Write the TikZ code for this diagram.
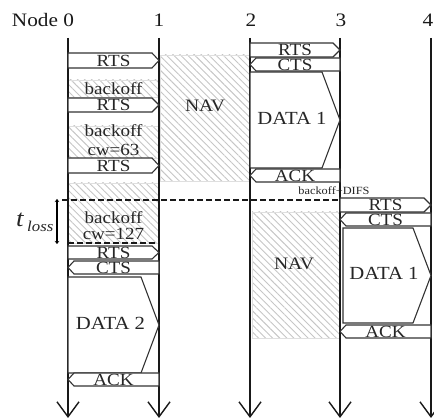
\documentclass[tikz,border=0pt]{standalone}
\usepackage{fontspec}
\setmainfont[FakeStretch=1.12]{Liberation Serif}
\usetikzlibrary{patterns.meta,arrows.meta}
% right-pointing message: name, left, right, top, bottom, text
\newcommand\msgRight[6]{%
  \draw[msgbox] (#2,#4) -- ({#3-7},#4) -- (#3,{(#4+#5)/2}) -- ({#3-7},#5) -- (#2,#5) -- cycle;
  \node[lbl] (#1) at ({(#2+#3)/2},{(#4+#5)/2}) {#6};}
% left-pointing message
\newcommand\msgLeft[6]{%
  \draw[msgbox] (#2,{(#4+#5)/2}) -- ({#2+6},#4) -- (#3,#4) -- (#3,#5) -- ({#2+6},#5) -- cycle;
  \node[lbl] (#1) at ({(#2+#3)/2},{(#4+#5)/2}) {#6};}
% data frame
\newcommand\msgData[6]{%
  \draw[msgbox] (#2,#4) -- ({#3-18},#4) -- (#3,{(#4+#5)/2}) -- ({#3-18},#5) -- (#2,#5) -- cycle;
  \node[biglbl] (#1) at ({(#2+#3)/2-3},{(#4+#5)/2-2}) {#6};}
\begin{document}
\begin{tikzpicture}[x=1pt,y=-1pt,
  lifeline/.style={line width=1.8pt, black!90, -{Straight Barb[length=15pt,width=22pt,line width=1.4pt]}},
  msgbox/.style={draw=black!80, line width=1.1pt, fill=white},
  hatch/.style={pattern={Lines[angle=-45,distance=5pt,line width=0.9pt]}, pattern color=gray!45, draw=gray!25, line width=0.6pt},
  lbl/.style={font=\fontsize{17}{17}\selectfont, text=black!85, inner sep=0pt},
  biglbl/.style={font=\fontsize{18.5}{18.5}\selectfont, text=black!85, inner sep=0pt},
  navlbl/.style={font=\fontsize{17.5}{17.5}\selectfont, text=black!85, inner sep=0pt},
  head/.style={font=\fontsize{19}{19}\selectfont, text=black!90, inner sep=0pt, anchor=base},
  dashline/.style={line width=1.6pt, dash pattern=on 6pt off 3pt, black!90}
]
\useasboundingbox (0,0) rectangle (434,419);

% headers
\node[head] (h0) at (43,27) {Node 0};
\node[head] (h1) at (159,27) {1};
\node[head] (h2) at (251,27) {2};
\node[head] (h3) at (341,27) {3};
\node[head] (h4) at (428,27) {4};

% hatched regions
\draw[hatch] (68,80) rectangle (159,97);
\draw[hatch] (68,126) rectangle (159,158);
\draw[hatch] (68,183) rectangle (159,243);
\draw[hatch] (160,55) rectangle (250,181);
\draw[hatch] (252,212) rectangle (339,338);

% lifelines
\foreach \i/\x in {0/68,1/159,2/250,3/340,4/431}{
  \coordinate (top\i) at (\x,38);
  \coordinate (bot\i) at (\x,418);
  \draw[lifeline] (top\i) -- (bot\i);
}

% node 0 column
\msgRight{rts01}{68}{159}{53}{68}{RTS}
\node[lbl] (bo1) at (113.5,89) {backoff};
\msgRight{rts02}{68}{159}{98}{112}{RTS}
\node[lbl] (bo2) at (113.5,131) {backoff};
\node[lbl] (cw63) at (113.5,150) {cw=63};
\msgRight{rts03}{68}{159}{158}{173}{RTS}
\node[lbl] (bo3) at (113.5,218) {backoff};
\node[lbl] (cw127) at (113.5,234) {cw=127};
\msgRight{rts04}{68}{159}{246}{259}{RTS}
\msgLeft{cts0}{68}{159}{261}{274}{CTS}
\msgData{data2}{68}{159}{277}{373}{DATA 2}
\msgLeft{ack0}{68}{159}{373}{386}{ACK}

% NAV labels
\node[navlbl] (nav1) at (205,106) {NAV};
\node[navlbl] (nav2) at (294,264) {NAV};

% node 2 column
\msgRight{rts2}{250}{340}{43}{57}{RTS}
\msgLeft{cts2}{250}{340}{58}{71}{CTS}
\msgData{data1a}{250}{340}{72}{168}{DATA 1}
\msgLeft{ack2}{250}{340}{169}{182}{ACK}
\node[font=\fontsize{11}{11}\selectfont, inner sep=0pt, text=black!85] (bd) at (334,191) {backoff+DIFS};

% node 3 column
\msgRight{rts3}{340}{431}{198}{212}{RTS}
\msgLeft{cts3}{340}{431}{213}{226}{CTS}
\msgData{data1b}{343}{431}{228}{323}{DATA 1}
\msgLeft{ack3}{340}{431}{325}{338}{ACK}

% dashed lines
\coordinate (dA) at (62,200);
\coordinate (dB) at (340,200);
\draw[dashline] (dA) -- (dB);
\coordinate (dC) at (68,243);
\coordinate (dD) at (159,243);
\draw[dashline] (dC) -- (dD);

% t_loss
\coordinate (tlA) at (57,199);
\coordinate (tlB) at (57,244);
\draw[line width=2.4pt, {Stealth[length=3pt,width=4.5pt]}-{Stealth[length=3pt,width=4.5pt]}] (tlA) -- (tlB);
\node[font=\fontsize{24}{24}\selectfont\itshape, inner sep=0pt, anchor=base west, text=black!85] (tlt) at (16,227) {t};
\node[font=\fontsize{15}{15}\selectfont\itshape, inner sep=0pt, anchor=base west, text=black!85] (tll) at (27,232) {loss};
\end{tikzpicture}
\end{document}
